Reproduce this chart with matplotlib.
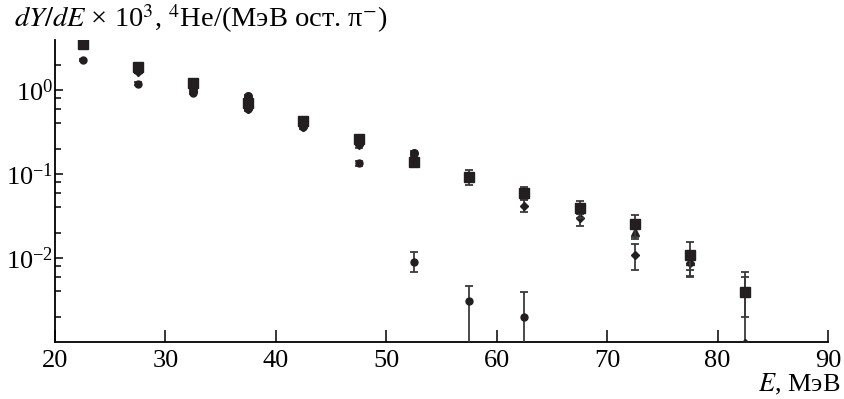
import numpy as np
import matplotlib.pyplot as plt
from matplotlib.ticker import LogLocator, NullFormatter, FixedLocator

plt.rcParams['font.family'] = ['Liberation Serif', 'DejaVu Serif']
plt.rcParams['mathtext.fontset'] = 'stix'

# energy bins, MeV
E = [22.5, 27.5, 32.5, 37.5, 42.5, 47.5, 52.5, 57.5, 62.5, 67.5, 72.5, 77.5, 82.5]

# squares
sq_y = [3.5, 1.90, 1.20, 0.70, 0.43, 0.26, 0.14, 0.092, 0.060, 0.039, 0.0253, 0.0109, 0.0039]
sq_lo = [0.15, 0.08, 0.05, 0.03, 0.02, 0.015, 0.01, 0.018, 0.010, 0.009, 0.0075, 0.0048, 0.0019]
sq_hi = [0.15, 0.08, 0.05, 0.03, 0.02, 0.015, 0.01, 0.020, 0.010, 0.009, 0.0075, 0.0048, 0.0030]

# circles
ci_y = [3.5, 1.75, 1.05, 0.85, 0.41, 0.24, 0.177, 0.095]
ci_err = [0.12, 0.07, 0.04, 0.03, 0.02, 0.015, 0.012, 0.008]

# triangles
tr_y = [3.5, 1.80, 1.10, 0.66, 0.40, 0.25, 0.16, 0.093, 0.058, 0.038, 0.0203, 0.0092]
tr_err = [0.12, 0.07, 0.04, 0.03, 0.02, 0.015, 0.01, 0.008, 0.006, 0.005, 0.0035, 0.002]

# diamonds
di_y = [3.5, 1.65, 0.95, 0.60, 0.36, 0.22, 0.15, 0.090, 0.042, 0.030, 0.0110, 0.0088, 0.00098]
di_lo = [0.12, 0.07, 0.04, 0.03, 0.02, 0.015, 0.01, 0.008, 0.007, 0.006, 0.0038, 0.0029, 0.00097]
di_hi = [0.12, 0.07, 0.04, 0.03, 0.02, 0.015, 0.01, 0.008, 0.007, 0.006, 0.0038, 0.0029, 0.0049]

# steeply falling series
hx_E = [22.5, 27.5, 32.5, 37.5, 42.5, 47.5, 52.5, 57.5, 62.5]
hx_y = [2.28, 1.19, 0.92, 0.60, 0.36, 0.134, 0.0090, 0.0031, 0.0020]
hx_lo = [0.08, 0.04, 0.03, 0.02, 0.015, 0.008, 0.0022, 0.00309, 0.00199]
hx_hi = [0.08, 0.04, 0.03, 0.02, 0.015, 0.008, 0.0029, 0.0015, 0.0019]

col = '#231f20'
ecol = '#3a3a3a'

fig = plt.figure(figsize=(8.44, 3.99), dpi=100)
ax = fig.add_axes([0.0652, 0.1429, 0.9158, 0.7568])

common = dict(linestyle='none', color=col, ecolor=ecol, elinewidth=1.3,
              capsize=3.2, capthick=1.3)
ax.errorbar(E, di_y, yerr=[di_lo, di_hi], fmt='D', markersize=4.5, zorder=3, **common)
ax.errorbar(E[:12], tr_y, yerr=tr_err, fmt='^', markersize=6, zorder=4, **common)
ax.errorbar(E[:8], ci_y, yerr=ci_err, fmt='o', markersize=5.5, zorder=5, **common)
ax.errorbar(hx_E, hx_y, yerr=[hx_lo, hx_hi], fmt='o', markersize=5, zorder=5, **common)
ax.errorbar(E, sq_y, yerr=[sq_lo, sq_hi], fmt='s', markersize=6.5, zorder=6, **common)

ax.set_yscale('log')
ax.set_xlim(20, 90)
ax.set_ylim(1e-3, 3.94)
ax.set_xticks(range(20, 91, 10))
ax.yaxis.set_major_locator(FixedLocator([1e-2, 1e-1, 1e0]))
ax.yaxis.set_minor_locator(LogLocator(base=10, subs=[2, 4, 6, 8]))
ax.yaxis.set_minor_formatter(NullFormatter())

ax.spines['top'].set_visible(False)
ax.spines['right'].set_visible(False)
for s in ['left', 'bottom']:
    ax.spines[s].set_linewidth(1.3)

ax.tick_params(axis='x', which='major', direction='in', length=9, width=1.1,
               labelsize=19, pad=6)
ax.tick_params(axis='y', which='major', direction='in', length=6, width=1.1,
               labelsize=19, pad=1.5)
ax.tick_params(axis='y', which='minor', direction='in', length=4.3, width=1.1)

fig.text(14 / 844, 1 - 27 / 399,
         r'$dY/dE$ × 10$^3$, $^4$He/(МэВ ост. π$^{-}$)',
         fontsize=20.5, ha='left', va='baseline')
fig.text(840 / 844, 1 - 391 / 399, r'$E$, МэВ', fontsize=19,
         ha='right', va='baseline')

fig.savefig('out.png', dpi=100)
